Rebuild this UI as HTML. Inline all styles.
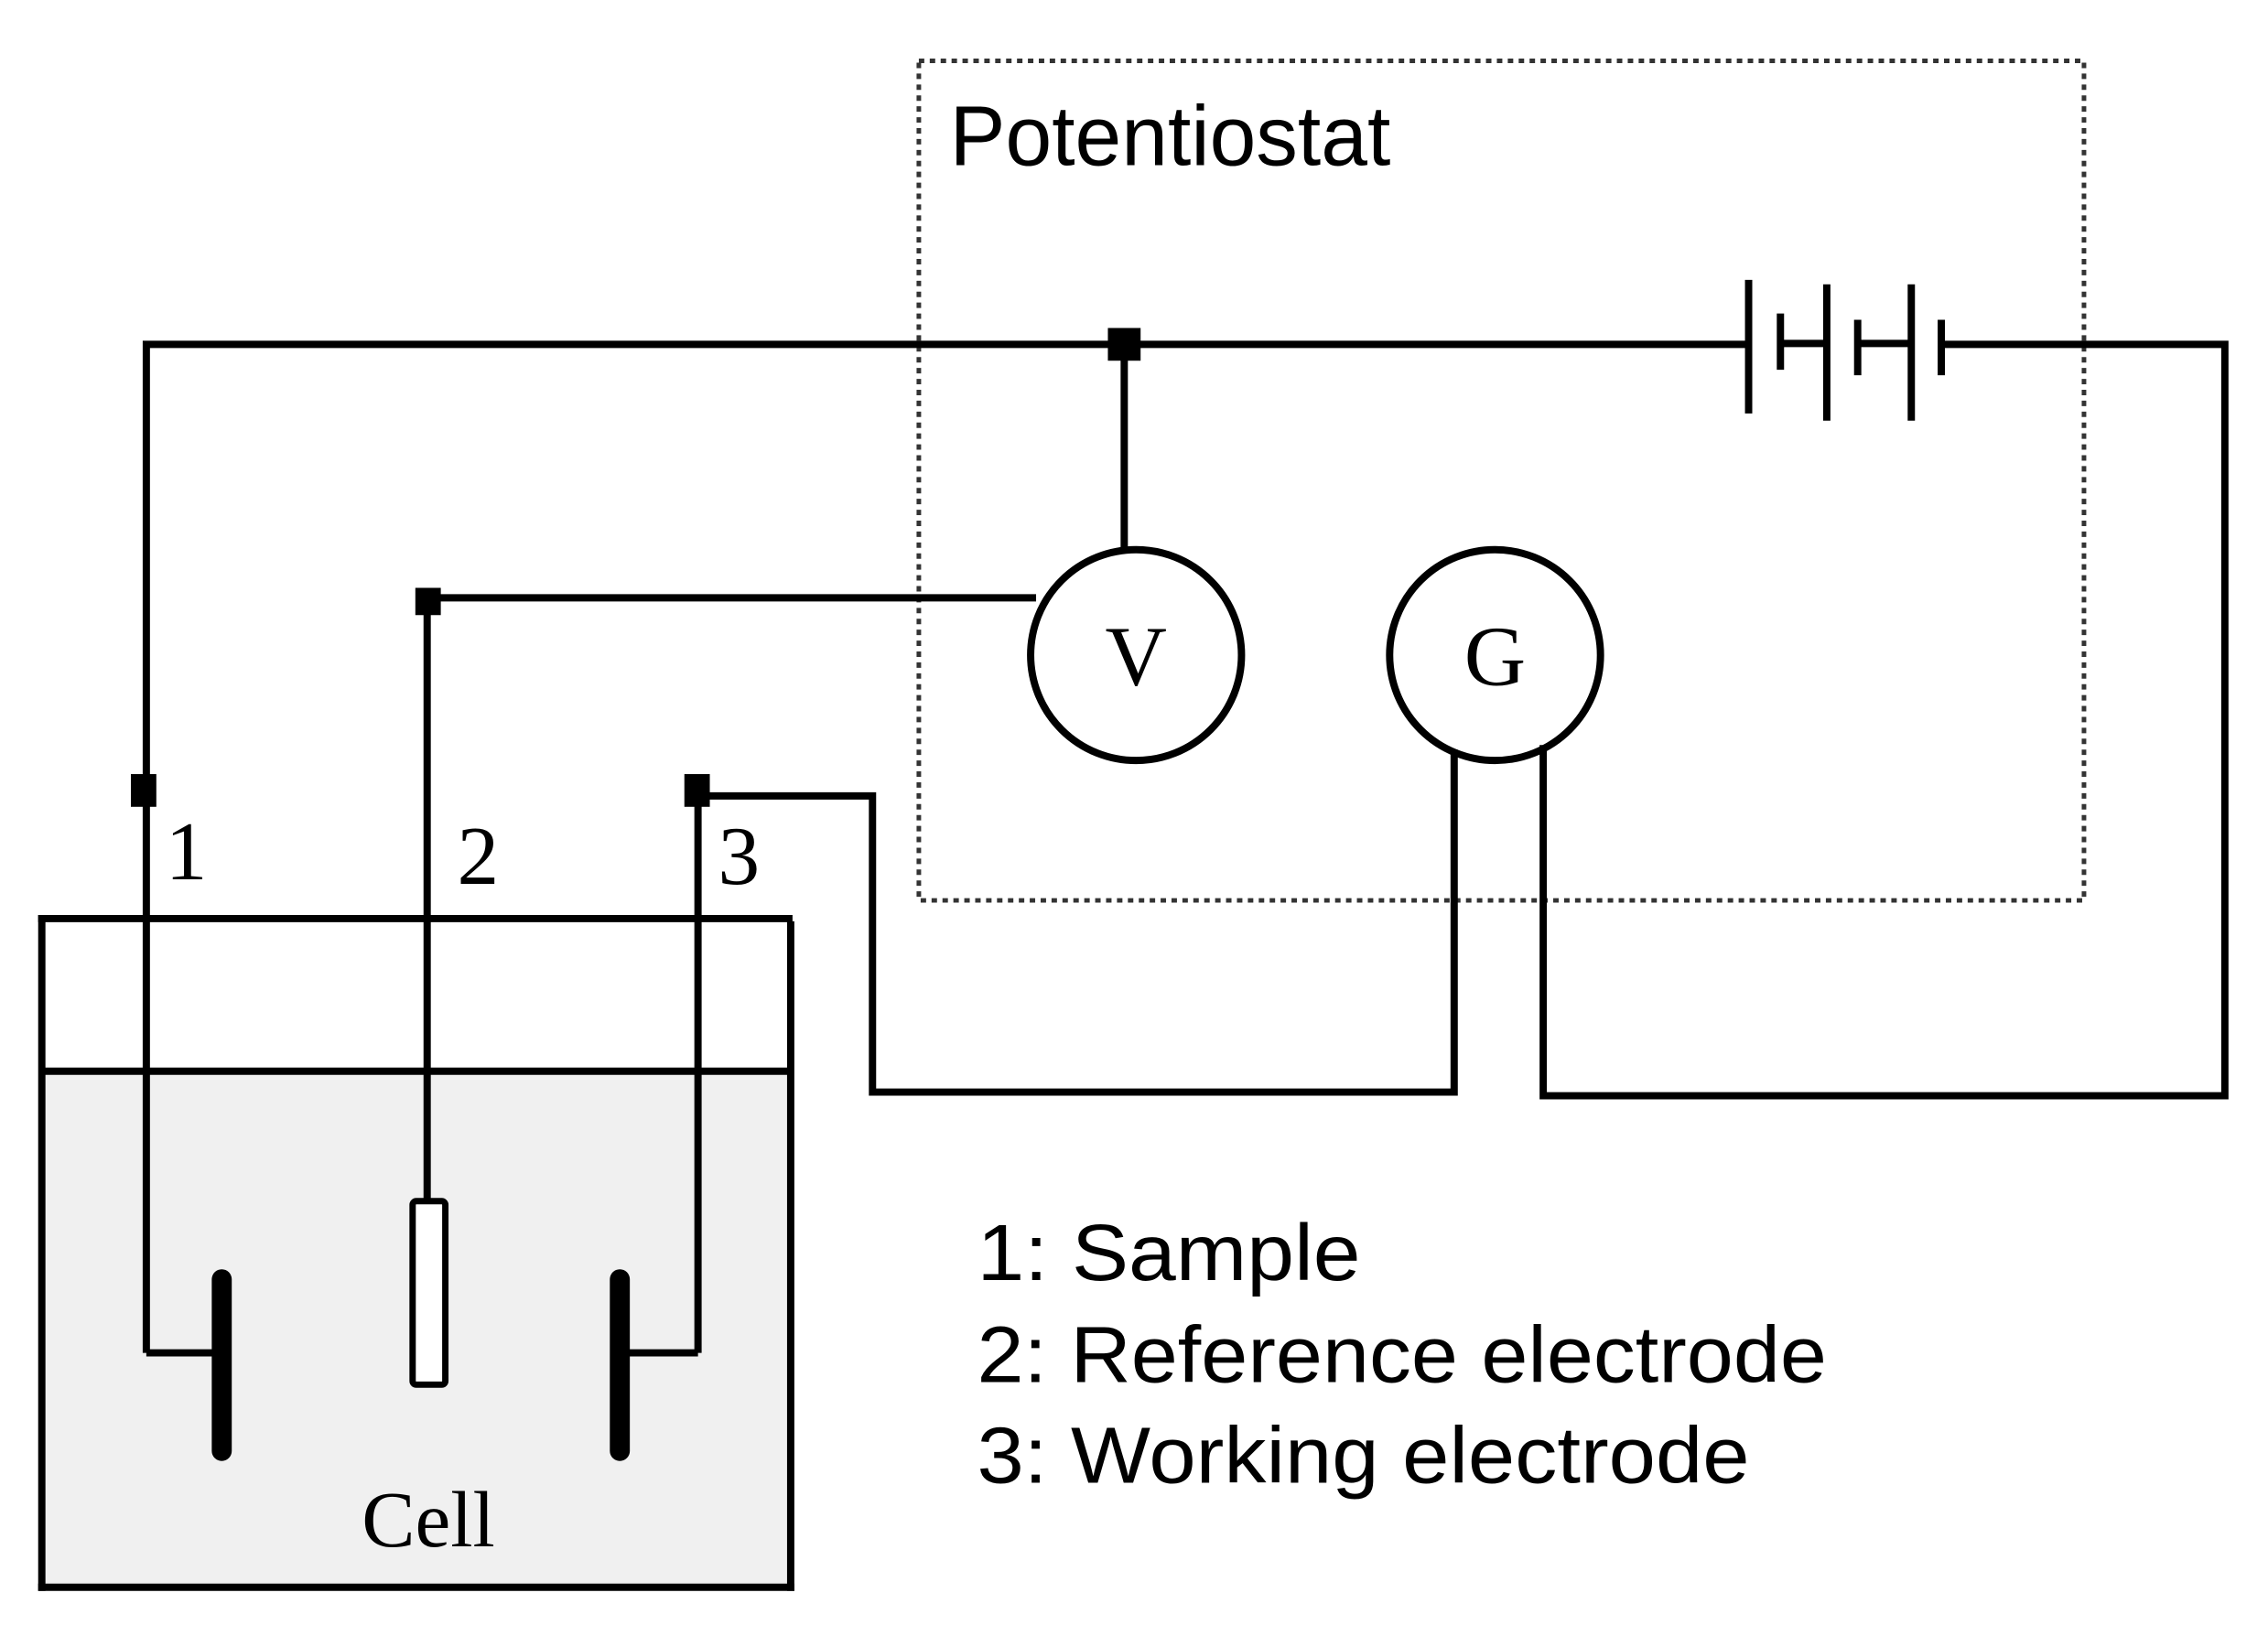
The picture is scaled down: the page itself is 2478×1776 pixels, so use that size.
<!DOCTYPE html>
<html><head><meta charset="utf-8"><style>html,body{margin:0;padding:0;background:#fff}svg{display:block}</style></head>
<body>
<svg width="2478" height="1776" viewBox="0 0 2478 1776" xmlns="http://www.w3.org/2000/svg">
<rect width="2478" height="1776" fill="#fff"/>
<g transform="scale(0.993)">
<rect x="46" y="1183" width="824" height="564" fill="#f0f0f0"/>
<g stroke="#000" stroke-width="8" fill="none" stroke-linecap="square">
<line x1="46" y1="1011" x2="868" y2="1011"/>
<line x1="46" y1="1011" x2="46" y2="1747"/>
<line x1="870" y1="1018" x2="870" y2="1747"/>
<line x1="46" y1="1747" x2="870" y2="1747"/>
<line x1="48" y1="1179" x2="866" y2="1179"/>
</g>
<rect x="1011" y="67" width="1282" height="924" fill="none" stroke="#333" stroke-width="5" stroke-dasharray="6,6"/>
<text x="1045" y="182" font-family="Liberation Sans, sans-serif" font-size="93" textLength="485" lengthAdjust="spacingAndGlyphs">Potentiostat</text>
<g stroke="#000" stroke-width="8" fill="none">
<polyline points="161,1489 161,379 1924,379"/>
<polyline points="2136,379 2448,379 2448,1206 1698,1206 1698,820"/>
<g transform="translate(13,0)">
<line x1="1911" y1="308" x2="1911" y2="455"/>
<line x1="1946" y1="345" x2="1946" y2="407"/>
<line x1="1946" y1="378" x2="1997" y2="378"/>
<line x1="1997" y1="313" x2="1997" y2="463"/>
<line x1="2031" y1="352" x2="2031" y2="413"/>
<line x1="2031" y1="378" x2="2090" y2="378"/>
<line x1="2090" y1="313" x2="2090" y2="463"/>
<line x1="2123" y1="352" x2="2123" y2="413"/>
</g>
<line x1="1237" y1="379" x2="1237" y2="605"/>
<polyline points="470,1322 470,658 1140,658"/>
<polyline points="768,1489 768,876 960,876 960,1202 1600,1202 1600,825"/>
<polyline points="161,1489 244,1489"/>
<polyline points="768,1489 685,1489"/>
<circle cx="1250" cy="721" r="116"/>
<circle cx="1645" cy="721" r="116"/>
</g>
<g stroke="#000" stroke-width="22" stroke-linecap="round">
<line x1="244" y1="1408" x2="244" y2="1597"/>
<line x1="682" y1="1408" x2="682" y2="1597"/>
</g>
<rect x="454" y="1322" width="36" height="202" rx="4" fill="#fff" stroke="#000" stroke-width="7"/>
<rect x="1219" y="361" width="36" height="36" fill="#000"/>
<rect x="457" y="647" width="28" height="30" fill="#000"/>
<rect x="144" y="852" width="28" height="36" fill="#000"/>
<rect x="753" y="852" width="28" height="36" fill="#000"/>
<g font-family="Liberation Serif, serif" font-size="92">
<text x="182" y="968">1</text>
<text x="503" y="973">2</text>
<text x="790" y="973">3</text>
<text x="1250" y="754" text-anchor="middle" font-size="94">V</text>
<text x="1645" y="754" text-anchor="middle" font-size="94">G</text>
<text x="398" y="1702" font-size="88">Cell</text>
</g>
<g font-family="Liberation Sans, sans-serif" font-size="88">
<text x="1075" y="1409" textLength="422" lengthAdjust="spacingAndGlyphs">1: Sample</text>
<text x="1075" y="1521" textLength="935" lengthAdjust="spacingAndGlyphs">2: Reference electrode</text>
<text x="1075" y="1632" textLength="850" lengthAdjust="spacingAndGlyphs">3: Working electrode</text>
</g>
</g>
</svg>
</body></html>
